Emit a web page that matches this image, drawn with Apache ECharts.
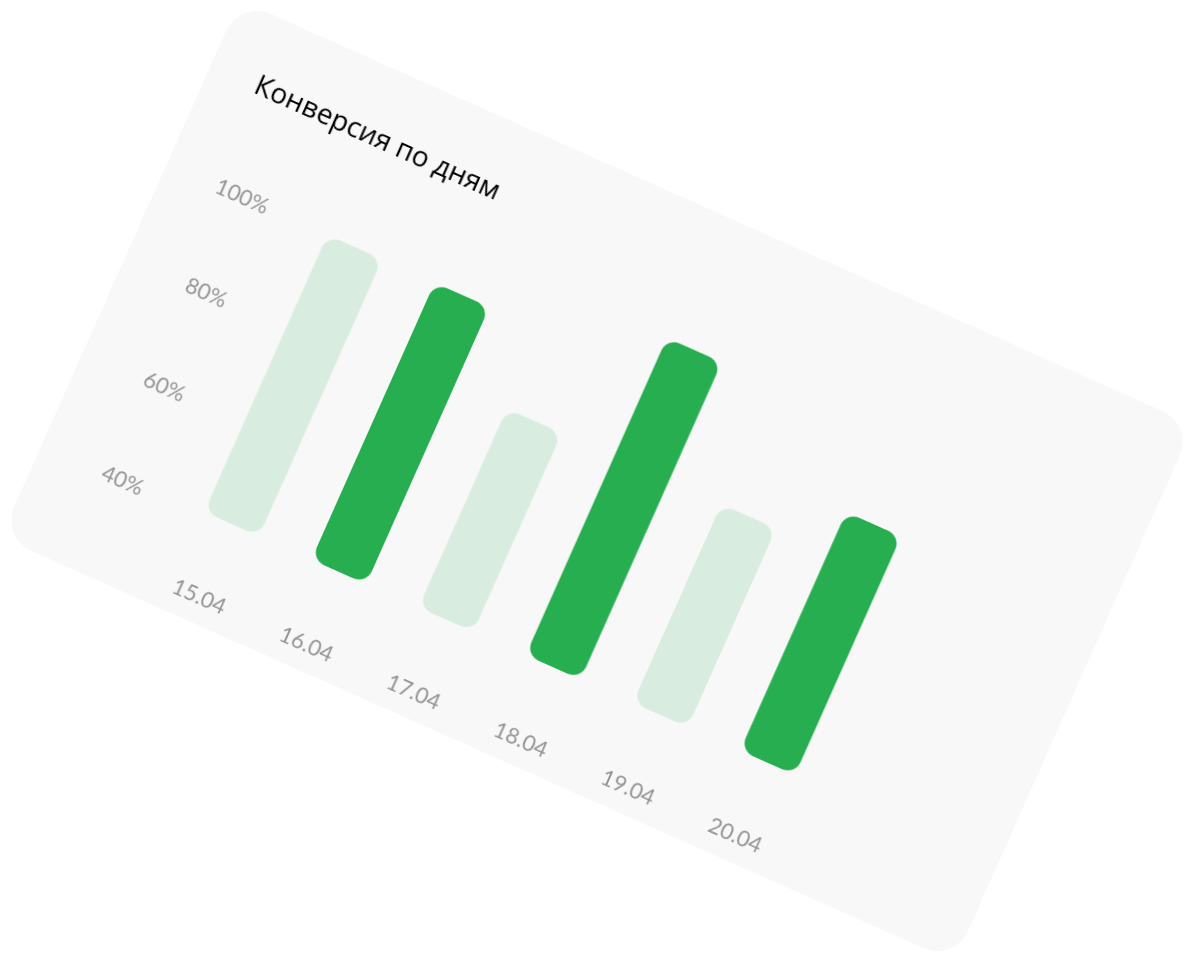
<!DOCTYPE html>
<html>
<head>
<meta charset="utf-8">
<script src="https://cdn.jsdelivr.net/npm/echarts@6/dist/echarts.min.js"></script>
<style>
  html, body { margin: 0; padding: 0; background: #ffffff; width: 1194px; height: 962px; overflow: hidden; }
  #card {
    position: absolute;
    left: 75px; top: 187px;
    width: 1044px; height: 588px;
    background: #f8f8f8;
    border-radius: 34px;
    transform: rotate(24deg);
    transform-origin: 50% 50%;
    overflow: hidden;
  }
  #chart { width: 1044px; height: 588px; }
</style>
</head>
<body>
<div id="card"><div id="chart"></div></div>
<script>
const chartTitle = 'Конверсия по дням';
const categories = ['15.04', '16.04', '17.04', '18.04', '19.04', '20.04'];
const conversion = [99, 99, 82.3, 107.6, 82.3, 90.8];
const yTickValues = [40, 60, 80, 100];
const yTickLabels = ['40%', '60%', '80%', '100%'];

const chart = echarts.init(document.getElementById('chart'), null, { devicePixelRatio: 2 });
const lightGreen = '#d8eddf';
const darkGreen = '#27ae50';

chart.setOption({
  animation: false,
  title: {
    text: chartTitle,
    left: 49,
    top: 57,
    padding: 0,
    textStyle: { fontFamily: 'Open Sans', fontSize: 28, fontWeight: 500, color: '#000000' }
  },
  grid: { left: 147, right: 193, top: 71, bottom: 106, containLabel: false },
  xAxis: {
    type: 'category',
    data: categories,
    axisLine: { show: false },
    axisTick: { show: false },
    axisLabel: { interval: 0, margin: 69, color: '#939393', fontFamily: 'Lato', fontSize: 22 }
  },
  yAxis: {
    type: 'value',
    min: 40,
    max: 120,
    interval: 20,
    splitLine: { show: false },
    axisLine: { show: false },
    axisTick: { show: false },
    axisLabel: {
      margin: 37,
      color: '#939393',
      fontFamily: 'Lato',
      fontSize: 22,
      verticalAlign: 'top',
      lineHeight: 10,
      formatter: function (v) {
        const i = yTickValues.indexOf(v);
        return i >= 0 ? yTickLabels[i] : '';
      }
    }
  },
  series: [{
    type: 'bar',
    data: conversion,
    barWidth: 60,
    itemStyle: {
      borderRadius: 14,
      color: function (p) { return p.dataIndex % 2 === 0 ? lightGreen : darkGreen; }
    }
  }]
});
</script>
</body>
</html>
